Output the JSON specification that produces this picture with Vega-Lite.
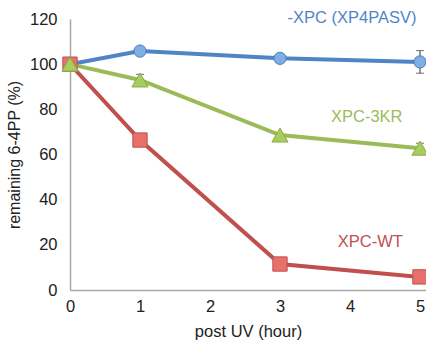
{
  "$schema": "https://vega.github.io/schema/vega-lite/v6.json",
  "width": 356,
  "height": 271,
  "autosize": {"type": "none"},
  "padding": {"left": 70, "top": 19, "right": 0, "bottom": 57},
  "background": "white",
  "config": {
    "view": {"stroke": null},
    "font": "Liberation Sans",
    "axis": {"grid": false, "ticks": false, "domainColor": "#a6a6a6", "domainWidth": 1.5, "labelFont": "Liberation Sans", "titleFont": "Liberation Sans", "labelColor": "#222", "titleColor": "#222", "titleFontWeight": "normal"}
  },
  "datasets": {
    "pts": [
      {"series": "blue", "ord": 1, "t": 0, "v": 100},
      {"series": "blue", "ord": 1, "t": 1, "v": 105.8},
      {"series": "blue", "ord": 1, "t": 3, "v": 102.6},
      {"series": "blue", "ord": 1, "t": 5, "v": 101},
      {"series": "red", "ord": 2, "t": 0, "v": 100},
      {"series": "red", "ord": 2, "t": 1, "v": 66.4},
      {"series": "red", "ord": 2, "t": 3, "v": 11.5},
      {"series": "red", "ord": 2, "t": 5, "v": 5.8},
      {"series": "green", "ord": 3, "t": 0, "v": 100},
      {"series": "green", "ord": 3, "t": 1, "v": 93},
      {"series": "green", "ord": 3, "t": 3, "v": 68.6},
      {"series": "green", "ord": 3, "t": 5, "v": 62.8}
    ],
    "err": [
      {"series": "blue", "t": 5, "lo": 96, "hi": 106},
      {"series": "green", "t": 1, "lo": 93, "hi": 95.5},
      {"series": "green", "t": 5, "lo": 61, "hi": 65}
    ],
    "labels": [
      {"series": "blue", "t": 4.03, "v": 120.3, "text": "-XPC (XP4PASV)"},
      {"series": "green", "t": 4.24, "v": 76.5, "text": "XPC-3KR"},
      {"series": "red", "t": 4.29, "v": 21.2, "text": "XPC-WT"}
    ]
  },
  "layer": [
    {
      "data": {"name": "err"},
      "mark": {"type": "rule", "color": "#333", "strokeWidth": 1},
      "encoding": {
        "x": {"field": "t", "type": "quantitative", "scale": {"domain": [0, 5.086], "nice": false}},
        "y": {"field": "lo", "type": "quantitative"},
        "y2": {"field": "hi"}
      }
    },
    {
      "data": {"name": "err"},
      "mark": {"type": "tick", "color": "#333", "orient": "horizontal", "size": 8, "thickness": 1},
      "encoding": {
        "x": {"field": "t", "type": "quantitative"},
        "y": {"field": "lo", "type": "quantitative"}
      }
    },
    {
      "data": {"name": "err"},
      "mark": {"type": "tick", "color": "#333", "orient": "horizontal", "size": 8, "thickness": 1},
      "encoding": {
        "x": {"field": "t", "type": "quantitative"},
        "y": {"field": "hi", "type": "quantitative"}
      }
    },
    {
      "data": {"name": "pts"},
      "mark": {"type": "line", "strokeWidth": 4},
      "encoding": {
        "x": {"field": "t", "type": "quantitative", "scale": {"domain": [0, 5.086], "nice": false},
              "axis": {"values": [0, 1, 2, 3, 4, 5], "format": "d", "title": "post UV (hour)", "labelFontSize": 16.5, "titleFontSize": 16.5, "labelPadding": 8, "titlePadding": 9, "labelBound": false, "labelFlush": false, "labelOverlap": false}},
        "y": {"field": "v", "type": "quantitative", "scale": {"domain": [0, 120], "nice": false},
              "axis": {"values": [0, 20, 40, 60, 80, 100, 120], "title": "remaining 6-4PP (%)", "labelFontSize": 16.5, "titleFontSize": 16, "labelPadding": 13, "titlePadding": 7}},
        "color": {"field": "series", "type": "nominal", "scale": {"domain": ["blue", "red", "green"], "range": ["#4f85c6", "#c0504d", "#9bbb59"]}, "legend": null},
        "order": {"field": "t"},
        "detail": {"field": "series"}
      }
    },
    {
      "data": {"name": "pts"},
      "mark": {"type": "point", "filled": true, "opacity": 1, "strokeWidth": 1},
      "encoding": {
        "x": {"field": "t", "type": "quantitative"},
        "y": {"field": "v", "type": "quantitative"},
        "shape": {"field": "series", "type": "nominal", "scale": {"domain": ["blue", "red", "green"], "range": ["circle", "square", "triangle-up"]}, "legend": null},
        "size": {"field": "series", "type": "nominal", "scale": {"domain": ["blue", "red", "green"], "range": [150, 260, 200]}, "legend": null},
        "fill": {"field": "series", "type": "nominal", "scale": {"domain": ["blue", "red", "green"], "range": ["#7eaee4", "#e8706b", "#a9cc5e"]}, "legend": null},
        "stroke": {"field": "series", "type": "nominal", "scale": {"domain": ["blue", "red", "green"], "range": ["#4a7ebb", "#c0504d", "#8aab4a"]}, "legend": null},
        "order": {"field": "ord"}
      }
    },
    {
      "data": {"name": "labels"},
      "mark": {"type": "text", "fontSize": 16.5, "align": "center", "baseline": "middle", "font": "Liberation Sans"},
      "encoding": {
        "x": {"field": "t", "type": "quantitative"},
        "y": {"field": "v", "type": "quantitative"},
        "text": {"field": "text"},
        "color": {"field": "series", "type": "nominal", "scale": {"domain": ["blue", "red", "green"], "range": ["#4f85c6", "#c0504d", "#9bbb59"]}, "legend": null}
      }
    }
  ]
}
